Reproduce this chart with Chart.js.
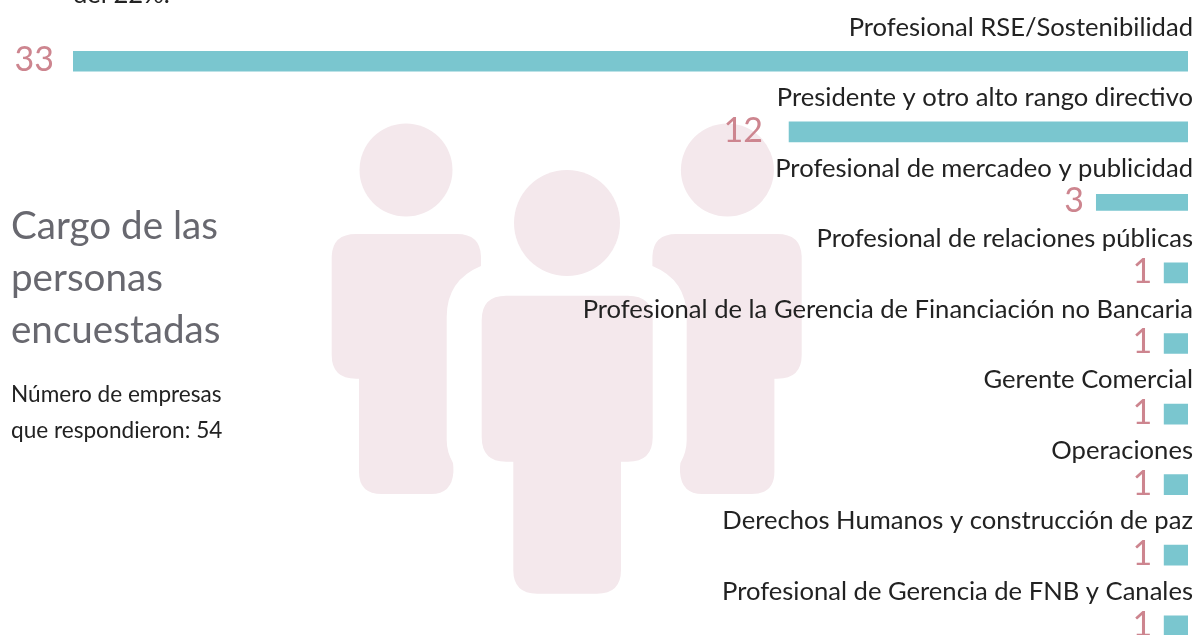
<!DOCTYPE html>
<html lang="es">
<head>
<meta charset="utf-8">
<title>Cargo de las personas encuestadas</title>
<script src="https://cdn.jsdelivr.net/npm/chart.js@4/dist/chart.umd.min.js"></script>
<style>
    html, body { margin: 0; padding: 0; background: #fff; }
    #page { position: relative; width: 1196px; height: 635px; overflow: hidden; font-family: Lato, sans-serif; }
    #people { position: absolute; left: 0; top: 0; }
    #chartBox { position: absolute; left: 0; top: 0; width: 1196px; height: 661px; }
    .txt { position: absolute; margin: 0; white-space: nowrap; }
    #cutText { left: 73px; top: -23px; font-size: 25.6px; line-height: 32px; color: #222; }
    #title { left: 11px; top: 198px; font-size: 38.6px; line-height: 52px; color: #68686f; font-weight: 400; }
    #subtitle { left: 11px; top: 376px; font-size: 22.6px; line-height: 36px; color: #222; }
</style>
</head>
<body>
<div id="page">
    <svg id="people" width="1196" height="635" fill="#f4e8ec">
        <circle cx="406" cy="170" r="46.5"></circle>
        <circle cx="567" cy="223" r="53"></circle>
        <circle cx="727.4" cy="170" r="46.5"></circle>
        <path d="M356 234H457Q481 234 481 258V266Q446.7 280 446.7 317V440Q446.7 452 453 463Q453.5 467 453.4 472Q452 494 431 494H382Q359 494 359 472V378.7H356Q331.7 378.7 331.7 355V258Q331.7 234 356 234Z"></path>
        <path d="M356 234H457Q481 234 481 258V266Q446.7 280 446.7 317V440Q446.7 452 453 463Q453.5 467 453.4 472Q452 494 431 494H382Q359 494 359 472V378.7H356Q331.7 378.7 331.7 355V258Q331.7 234 356 234Z" transform="translate(1133.4,0) scale(-1,1)"></path>
        <path d="M506 295.7H628Q652.7 295.7 652.7 320V437Q652.7 461.7 628 461.7H621V570Q621 593.7 597 593.7H537Q513.3 593.7 513.3 570V461.7H506Q481.7 461.7 481.7 437V320Q481.7 295.7 506 295.7Z"></path>
    </svg>
    <div id="chartBox"><canvas id="cargos"></canvas></div>
    <p class="txt" id="cutText">del 22%.</p>
    <h1 class="txt" id="title">Cargo de las<br>personas<br>encuestadas</h1>
    <p class="txt" id="subtitle">Número de empresas<br>que respondieron: 54</p>
</div>
<script>
const cargos = [
    "Profesional RSE/Sostenibilidad",
    "Presidente y otro alto rango directivo",
    "Profesional de mercadeo y publicidad",
    "Profesional de relaciones públicas",
    "Profesional de la Gerencia de Financiación no Bancaria",
    "Gerente Comercial",
    "Operaciones",
    "Derechos Humanos y construcción de paz",
    "Profesional de Gerencia de FNB y Canales",
];
const respuestas = [33, 12, 3, 1, 1, 1, 1, 1, 1];

// numeros rosas a la izquierda de cada barra
const valueLabels = {
    id: "valueLabels",
    afterDatasetsDraw(chart) {
        const ctx = chart.ctx;
        const bars = chart.getDatasetMeta(0).data;
        ctx.save();
        ctx.font = "34px Lato, sans-serif";
        ctx.fillStyle = "#cd858f";
        ctx.textAlign = "right";
        ctx.textBaseline = "middle";
        bars.forEach((bar, i) => {
            const gap = respuestas[i] >= 33 ? 19 : respuestas[i] >= 12 ? 26 : 12;
            ctx.fillText(String(respuestas[i]), bar.x - gap, bar.y - 1);
        });
        ctx.restore();
    },
};

new Chart(document.getElementById("cargos"), {
    type: "bar",
    data: {
        labels: cargos,
        datasets: [
            {
                data: respuestas,
                backgroundColor: "#7ac6cf",
                borderColor: "rgba(0,0,0,0)",
                borderWidth: (c) => (c.dataIndex === 2 ? { top: 2, bottom: 2, left: 0, right: 0 } : 0),
                borderSkipped: false,
                barThickness: 20,
            },
        ],
    },
    options: {
        indexAxis: "y",
        responsive: true,
        maintainAspectRatio: false,
        animation: false,
        layout: { padding: { left: 73, right: 8, top: 26, bottom: 0 } },
        plugins: { legend: { display: false }, tooltip: { enabled: false }, title: { display: false } },
        scales: {
            x: { display: false, reverse: true, min: 0.3, max: 33, grid: { display: false } },
            y: {
                position: "right",
                border: { display: false },
                grid: { display: false, drawTicks: false },
                // las etiquetas van encima de las barras, el eje no debe ocupar sitio
                afterFit(scale) {
                    scale.width = 0;
                    scale.paddingTop = 0;
                    scale.paddingBottom = 0;
                },
                ticks: {
                    mirror: true,
                    autoSkip: false,
                    padding: 5,
                    labelOffset: -34,
                    color: "#222",
                    font: { family: "Lato, sans-serif", size: 25.6 },
                },
            },
        },
    },
    plugins: [valueLabels],
});
</script>
</body>
</html>
